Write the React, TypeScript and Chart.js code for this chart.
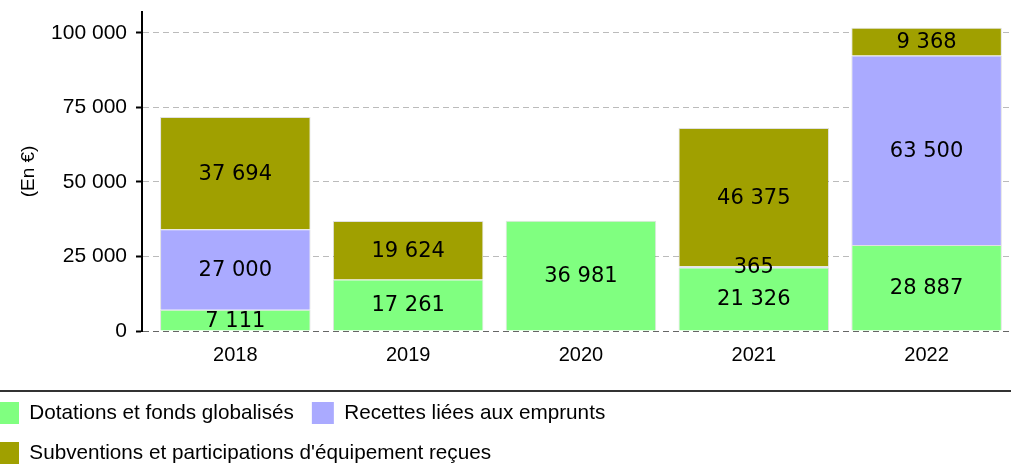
import React, { useEffect, useRef } from 'react';
import { Chart, registerables } from 'chart.js';

Chart.register(...registerables);

const years = ['2018', '2019', '2020', '2021', '2022'];
const dotations = [7111, 17261, 36981, 21326, 28887];
const recettes = [27000, 0, 0, 365, 63500];
const subventions = [37694, 19624, 0, 46375, 9368];
const yTickValues = [0, 25000, 50000, 75000, 100000];
const seriesNames = [
  'Dotations et fonds globalisés',
  'Recettes liées aux emprunts',
  "Subventions et participations d'équipement reçues",
];
const seriesColors = ['#80ff80', '#aaaaff', '#a0a000'];
const yTitle = '(En €)';

const fmt = (v: number) => String(Math.round(v)).replace(/\B(?=(\d{3})+(?!\d))/g, ' ');

const toPoints = (arr: number[]) =>
  arr.map((v, i) => ({ x: i, y: v })).filter((p) => p.y > 0);

const SANS = '"Liberation Sans", Arial, sans-serif';

const valueLabels = {
  id: 'valueLabels',
  afterDatasetsDraw(chart: any) {
    const ctx = chart.ctx;
    ctx.save();
    ctx.font = '21px "DejaVu Sans"';
    ctx.fillStyle = '#000';
    ctx.textAlign = 'center';
    ctx.textBaseline = 'middle';
    chart.data.datasets.forEach((ds: any, di: number) => {
      const meta = chart.getDatasetMeta(di);
      meta.data.forEach((el: any, i: number) => {
        const v = ds.data[i].y;
        const p = el.getProps(['x', 'y', 'base'], true);
        ctx.fillText(fmt(v), p.x, (p.y + p.base) / 2 + 1);
      });
    });
    ctx.restore();
  },
};

const separator = {
  id: 'separator',
  afterDraw(chart: any) {
    const ctx = chart.ctx;
    ctx.save();
    ctx.fillStyle = '#333';
    ctx.fillRect(0, 390, chart.width, 2);
    ctx.restore();
  },
};

export default function App() {
  const ref = useRef<HTMLCanvasElement>(null);

  useEffect(() => {
    if (!ref.current) return;
    const datasets = [dotations, recettes, subventions].map((arr, k) => ({
      label: seriesNames[k],
      data: toPoints(arr),
      backgroundColor: seriesColors[k],
      borderColor: 'rgba(0,0,0,0.12)',
      borderWidth: 1,
      stack: 's',
      barPercentage: 0.871,
      categoryPercentage: 1,
    }));
    const chart = new Chart(ref.current, {
      type: 'bar',
      data: { datasets } as any,
      plugins: [valueLabels, separator],
      options: {
        responsive: false,
        animation: false,
        events: [],
        layout: { padding: { top: 12, left: 0, right: 0, bottom: 0 } },
        plugins: {
          tooltip: { enabled: false },
          legend: {
            position: 'bottom',
            align: 'start',
            labels: {
              boxWidth: 22,
              boxHeight: 22,
              padding: 18,
              color: '#000',
              font: { family: SANS, size: 20.7 },
              generateLabels: (c: any) =>
                c.data.datasets.map((ds: any, i: number) => ({
                  text: ds.label,
                  fillStyle: ds.backgroundColor,
                  strokeStyle: ds.backgroundColor,
                  lineWidth: 0,
                  datasetIndex: i,
                  hidden: false,
                })),
            },
          },
        },
        scales: {
          x: {
            type: 'linear',
            min: -0.54,
            max: 4.5,
            bounds: 'data',
            offset: false,
            afterBuildTicks: (s: any) => {
              s.ticks = years.map((_, i) => ({ value: i }));
            },
            afterFit: (s: any) => {
              s.height = 53;
              s.paddingLeft = 0;
              s.paddingRight = 0;
            },
            ticks: {
              callback: (v: any) => years[Math.round(v)] ?? '',
              font: { family: SANS, size: 20 },
              color: '#000',
              padding: 12,
              autoSkip: false,
              maxRotation: 0,
            },
            grid: { display: false, drawTicks: false },
            border: { display: false },
          },
          y: {
            stacked: true,
            min: 0,
            max: 107000,
            bounds: 'data',
            afterBuildTicks: (s: any) => {
              s.ticks = yTickValues.map((v) => ({ value: v }));
            },
            afterFit: (s: any) => {
              s.width = 163;
              s.paddingTop = 0;
              s.paddingBottom = 0;
            },
            ticks: {
              callback: (v: any) => fmt(Number(v)),
              font: { family: SANS, size: 21 },
              color: '#000',
              padding: 9,
            },
            grid: {
              color: (c: any) => (c.tick && c.tick.value === 0 ? '#666' : '#bbbbbb'),
              lineWidth: 1,
              tickLength: 6,
              tickColor: '#000',
              tickWidth: 2,
              tickBorderDash: [],
            },
            border: { display: true, color: '#000', width: 2, dash: [6, 4] },
            title: {
              display: true,
              text: yTitle,
              color: '#000',
              font: { family: SANS, size: 19 },
              padding: { top: 38, bottom: 0 },
            },
          },
        },
      } as any,
    });
    return () => chart.destroy();
  }, []);

  return (
    <div
      style={{
        position: 'fixed',
        left: 0,
        top: 0,
        width: 1011,
        height: 466,
        overflow: 'hidden',
        background: '#fff',
      }}
    >
      <div style={{ position: 'absolute', left: -21, top: 0, width: 1034, height: 474 }}>
        <canvas ref={ref} width={1034} height={474} style={{ width: 1034, height: 474 }} />
      </div>
    </div>
  );
}
